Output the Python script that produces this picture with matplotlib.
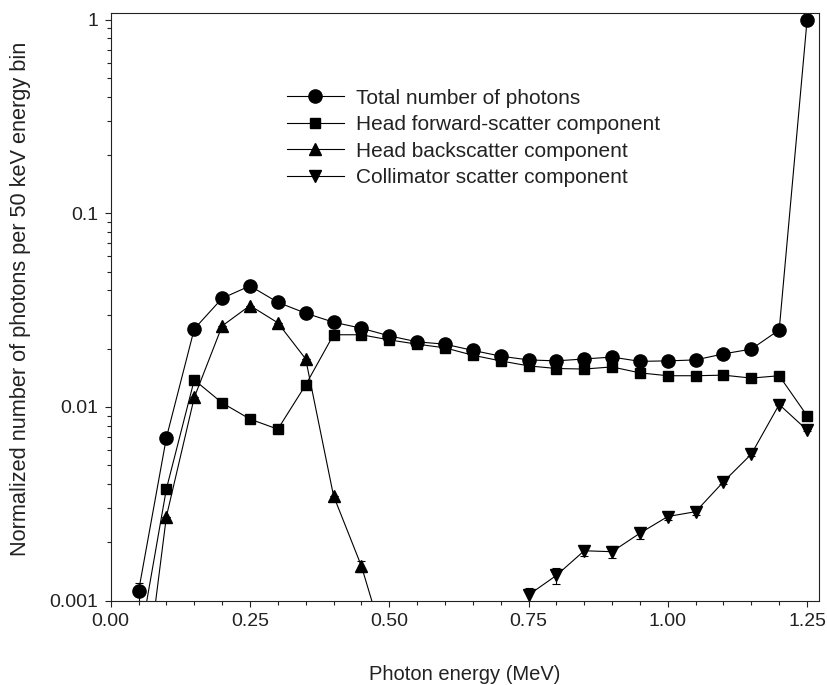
import matplotlib
matplotlib.use('Agg')
import matplotlib.pyplot as plt
from matplotlib.lines import Line2D
import numpy as np

plt.rcParams['font.family'] = ['Liberation Sans', 'DejaVu Sans']

# energy bins (MeV)
energia = [0.05, 0.10, 0.15, 0.20, 0.25, 0.30, 0.35, 0.40, 0.45, 0.50, 0.55, 0.60, 0.65,
           0.70, 0.75, 0.80, 0.85, 0.90, 0.95, 1.00, 1.05, 1.10, 1.15, 1.20, 1.25]

total = [0.00112, 0.00695, 0.0253, 0.0364, 0.0422, 0.0347, 0.0305, 0.0274, 0.0255, 0.0233,
         0.0217, 0.0211, 0.0196, 0.0183, 0.0175, 0.0173, 0.0177, 0.0181, 0.0172, 0.0173,
         0.0175, 0.0188, 0.0199, 0.0250, 0.99]
total_err = [0.00012, 0, 0, 0, 0, 0, 0, 0, 0, 0, 0, 0, 0, 0, 0, 0, 0, 0, 0, 0, 0, 0, 0, 0, 0]

forward = [0.00057, 0.00378, 0.0138, 0.0105, 0.00866, 0.00768, 0.0130, 0.0236, 0.0236, 0.0222,
           0.0211, 0.0202, 0.0185, 0.0173, 0.0163, 0.0158, 0.0157, 0.0161, 0.0150, 0.0145,
           0.0145, 0.0146, 0.0141, 0.0145, 0.00902]

back = [0.0002, 0.00272, 0.0112, 0.0262, 0.0334, 0.0272, 0.0177, 0.00348, 0.00151, 0.0005,
        np.nan, np.nan, np.nan, np.nan, np.nan, np.nan, np.nan, np.nan, np.nan, np.nan,
        np.nan, np.nan, np.nan, np.nan, np.nan]
back_err = [0, 0, 0, 0, 0, 0, 0, 0, 0.0001, 0, 0, 0, 0, 0, 0, 0, 0, 0, 0, 0, 0, 0, 0, 0, 0]

colim = [np.nan, np.nan, np.nan, np.nan, np.nan, np.nan, np.nan, np.nan, np.nan, np.nan,
         np.nan, np.nan, np.nan, np.nan, 0.00107, 0.00135, 0.00181, 0.00179, 0.00223, 0.00272,
         0.00288, 0.00411, 0.00571, 0.0103, 0.0076]
colim_err = [0, 0, 0, 0, 0, 0, 0, 0, 0, 0, 0, 0, 0, 0, 0.00009, 0.00013, 0.0001, 0.00012,
             0.00014, 0.00012, 0.0001, 0.0001, 0.0001, 0.0001, 0.0001]

rotulos = ['Total number of photons', 'Head forward-scatter component',
           'Head backscatter component', 'Collimator scatter component']
marcadores = ['o', 's', '^', 'v']
tamanhos = [9.5, 7.2, 9, 9]

fig = plt.figure(figsize=(8.28, 6.85), dpi=100)
ax = fig.add_axes([0.1337, 0.1231, 0.8558, 0.8575])

estilo = dict(color='black', lw=0.8, ecolor='black', elinewidth=0.8, capsize=3, capthick=0.8)
series = [(total, total_err), (forward, None), (back, back_err), (colim, colim_err)]
for (y, e), m, t in zip(series, marcadores, tamanhos):
    ax.errorbar(energia, y, yerr=e, fmt='-' + m, ms=t, **estilo)

ax.set_yscale('log')
ax.set_ylim(0.001, 1.078)
ax.set_xlim(0, 1.272)

ax.set_yticks([0.001, 0.01, 0.1, 1], ['0.001', '0.01', '0.1', '1'])
ax.set_yticks([m * 10.0**e for e in range(-3, 0) for m in range(2, 10)], minor=True)
ax.set_xticks([0, 0.25, 0.5, 0.75, 1.0, 1.25], ['0.00', '0.25', '0.50', '0.75', '1.00', '1.25'])
ax.set_xticks(np.arange(0.05, 1.27, 0.05), minor=True)
ax.yaxis.set_minor_formatter(matplotlib.ticker.NullFormatter())

ax.tick_params(which='both', direction='out', top=False, right=False, labelsize=14,
               width=0.8, colors='#222222', labelcolor='#222222')
ax.tick_params(which='major', length=4, pad=5)
ax.tick_params(which='minor', length=2.8)
for s in ax.spines.values():
    s.set_linewidth(0.8)
    s.set_color('#222222')

ax.set_xlabel('Photon energy (MeV)', fontsize=14.5, labelpad=25, color='#222222')
ax.set_ylabel('Normalized number of photons per 50 keV energy bin', fontsize=15.7,
              labelpad=13, color='#222222')
ax.yaxis.label.set_y(0.514)

# legenda com linha + marcador, sem barras de erro
alcas = [Line2D([], [], color='black', lw=0.8, marker=m, ms=t) for m, t in zip(marcadores, tamanhos)]
leg = ax.legend(alcas, rotulos, loc='upper left', bbox_to_anchor=(0.3335, 0.886),
                bbox_transform=fig.transFigure, frameon=False, fontsize=15, borderpad=0,
                labelspacing=0.36, handlelength=2.75, handletextpad=0.6)
for t in leg.get_texts():
    t.set_color('#222222')

fig.savefig('out.png', dpi=100)
